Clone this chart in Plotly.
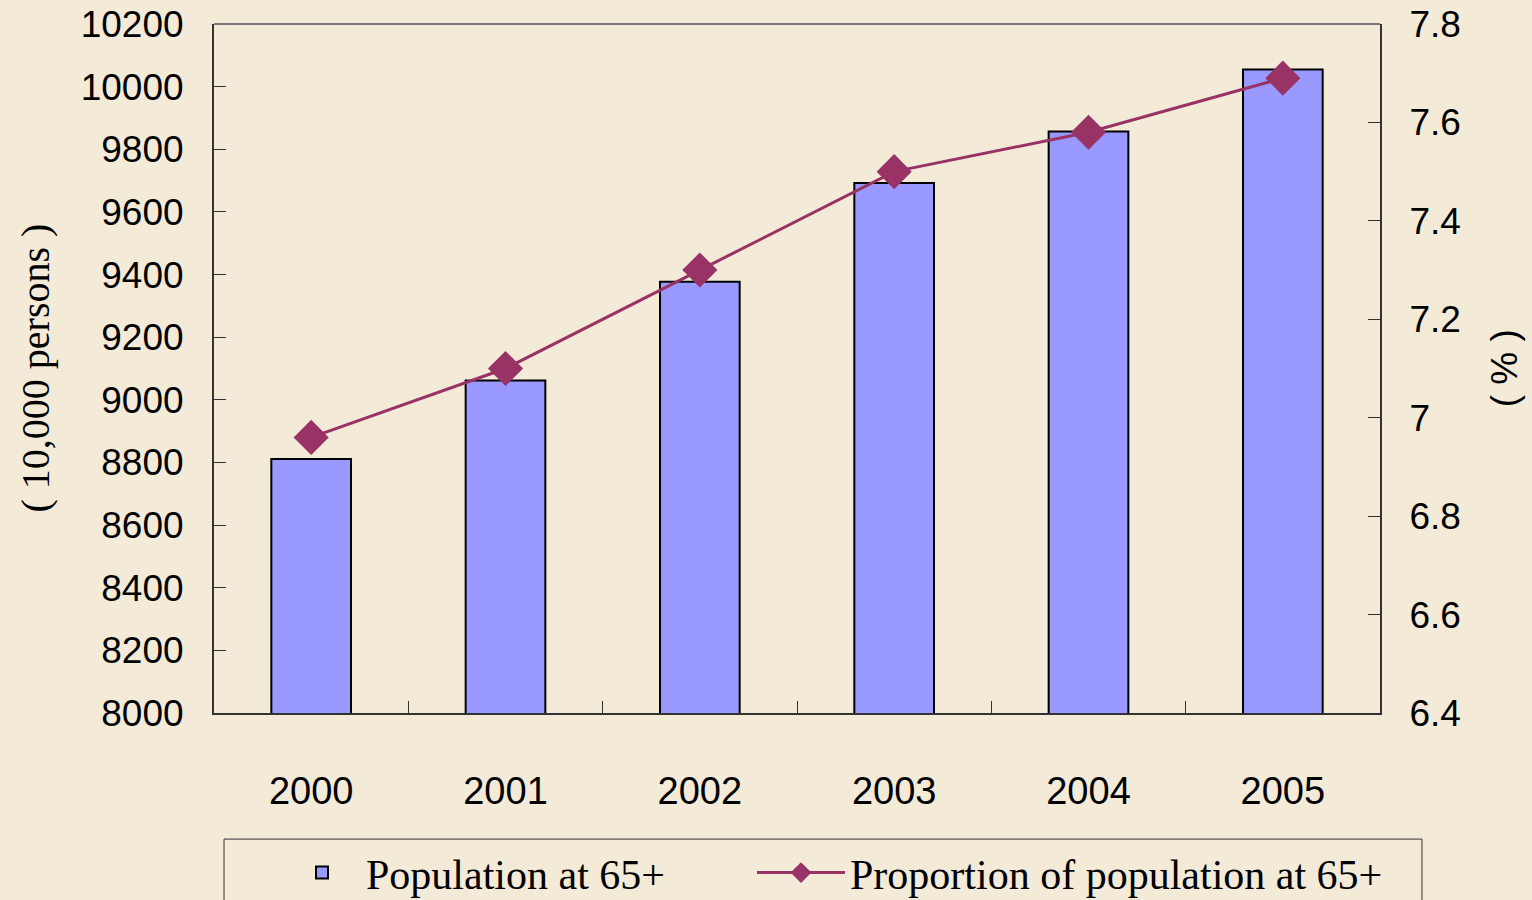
import plotly.graph_objects as go

years = ["2000", "2001", "2002", "2003", "2004", "2005"]
population_65 = [8811, 9062, 9377, 9692, 9857, 10055]      # 10,000 persons
proportion_65 = [6.96, 7.10, 7.30, 7.50, 7.58, 7.69]       # %

left_ticks = list(range(8000, 10201, 200))
right_ticks = [6.4, 6.6, 6.8, 7.0, 7.2, 7.4, 7.6, 7.8]
right_tick_text = ["6.4", "6.6", "6.8", "7", "7.2", "7.4", "7.6", "7.8"]

BG = "#F3EAD8"
SANS = "Liberation Sans, Arial, sans-serif"
SERIF = "Liberation Serif, Times New Roman, serif"

fig = go.Figure()
fig.add_trace(go.Bar(
    x=years, y=population_65, name="Population at 65+",
    marker=dict(color="#9999FF", line=dict(color="#000000", width=2)),
    width=0.41, yaxis="y", legend="legend",
))
fig.add_trace(go.Scatter(
    x=years, y=proportion_65, name="Proportion of population at 65+",
    mode="lines+markers",
    line=dict(color="#993366", width=3),
    marker=dict(symbol="diamond", size=27, color="#993366"),
    yaxis="y2", legend="legend2",
))

legend_common = dict(
    orientation="h", xanchor="left", y=-0.1825, yanchor="top",
    borderwidth=0, bgcolor="rgba(0,0,0,0)",
    font=dict(family=SERIF, size=42, color="#000000"),
)

fig.update_layout(
    width=1532, height=900, autosize=False,
    margin=dict(l=214, r=152, t=24, b=187, autoexpand=False),
    paper_bgcolor=BG, plot_bgcolor=BG,
    showlegend=True,
    xaxis=dict(
        type="category", showgrid=False, zeroline=False,
        showline=True, linecolor="#333333", linewidth=2,
        ticks="inside", tickson="boundaries", ticklen=12, tickcolor="#333333", tickwidth=1,
        tickfont=dict(family=SANS, size=38, color="#000000"),
        ticklabelstandoff=43,
    ),
    yaxis=dict(
        range=[8000, 10200], tickvals=left_ticks, tickformat="d",
        showgrid=False, zeroline=False,
        showline=True, linecolor="#333333", linewidth=2,
        ticks="inside", ticklen=12, tickcolor="#333333", tickwidth=1,
        tickfont=dict(family=SANS, size=37, color="#000000"),
        ticklabelstandoff=21,
    ),
    yaxis2=dict(
        range=[6.4, 7.8], tickvals=right_ticks, ticktext=right_tick_text,
        overlaying="y", side="right", showgrid=False, zeroline=False,
        showline=True, linecolor="#333333", linewidth=2,
        ticks="inside", ticklen=12, tickcolor="#333333", tickwidth=1,
        tickfont=dict(family=SANS, size=37, color="#000000"),
        ticklabelstandoff=20,
    ),
    legend=dict(x=0.0549, itemwidth=78, **legend_common),
    legend2=dict(x=0.4614, itemwidth=88, **legend_common),
    shapes=[
        dict(type="line", xref="paper", yref="paper", x0=0, x1=1, y0=1, y1=1,
             line=dict(color="#777777", width=2)),
        dict(type="rect", xref="paper", yref="paper", x0=0.0086, x1=1.036,
             y0=-0.183, y1=-0.32, line=dict(color="#333333", width=1),
             fillcolor="rgba(0,0,0,0)", layer="below"),
    ],
    annotations=[
        dict(text="( 10,000 persons )", textangle=-90, xref="paper", yref="paper",
             x=-0.1535, y=0.5, xanchor="center", yanchor="middle", showarrow=False,
             font=dict(family=SERIF, size=40, color="#000000")),
        dict(text="( % )", textangle=-90, xref="paper", yref="paper",
             x=1.107, y=0.5, xanchor="center", yanchor="middle", showarrow=False,
             font=dict(family=SANS, size=37, color="#000000")),
    ],
)

fig.write_html("out.html", config={"displayModeBar": False},
               post_script="document.body.style.margin='0';document.body.style.overflow='hidden';")
